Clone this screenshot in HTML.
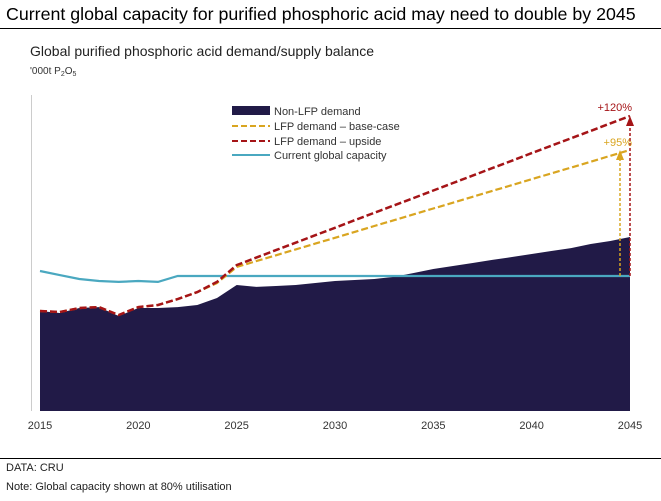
<!DOCTYPE html>
<html><head><meta charset="utf-8"><style>
body{margin:0;background:#fff;font-family:"Liberation Sans",sans-serif;}
svg{display:block}
</style></head><body>
<svg width="661" height="501" font-family="Liberation Sans, sans-serif">
<text x="6" y="20" font-size="17.8" fill="#000">Current global capacity for purified phosphoric acid may need to double by 2045</text>
<line x1="0" y1="28.5" x2="661" y2="28.5" stroke="#000" stroke-width="1"/>
<text x="30" y="56" font-size="14" fill="#222">Global purified phosphoric acid demand/supply balance</text>
<text x="30" y="74" font-size="10" fill="#333">'000t P<tspan font-size="7" dy="2">2</tspan><tspan dy="-2">O</tspan><tspan font-size="7" dy="2">5</tspan></text>
<line x1="31.5" y1="95" x2="31.5" y2="411" stroke="#ccc"/>
<g id="plot"></g>
<g id="xt"></g>
<g font-size="11" fill="#333">
<rect x="232" y="106" width="38" height="9" fill="#211a47"/>
<text x="274" y="115">Non-LFP demand</text>
<line x1="232" y1="126" x2="270" y2="126" stroke="#d9a520" stroke-width="2" stroke-dasharray="6,3"/>
<text x="274" y="130">LFP demand – base-case</text>
<line x1="232" y1="141" x2="270" y2="141" stroke="#a51417" stroke-width="2" stroke-dasharray="6,3"/>
<text x="274" y="145">LFP demand – upside</text>
<line x1="232" y1="155" x2="270" y2="155" stroke="#4aa8c0" stroke-width="2"/>
<text x="274" y="159">Current global capacity</text>
</g>
<line x1="0" y1="458.5" x2="661" y2="458.5" stroke="#000"/>
<text x="6" y="471" font-size="11" fill="#222">DATA: CRU</text>
<text x="6" y="490" font-size="11" fill="#222">Note: Global capacity shown at 80% utilisation</text>
</svg>
<script>
const years=[2015,2016,2017,2018,2019,2020,2021,2022,2023,2024,2025,2026,2027,2028,2029,2030,2031,2032,2033,2034,2035,2036,2037,2038,2039,2040,2041,2042,2043,2044,2045];
const nonLfp=[74.1,72.6,76.3,77.0,70.4,76.3,76.3,77.0,78.5,83.7,93.3,91.9,92.6,93.3,94.8,96.3,97.0,97.8,99.3,102.2,105.2,107.4,109.6,111.9,114.1,116.3,118.5,120.7,123.7,125.9,128.9];
const upside=[74.1,73.3,76.3,77.0,71.1,77.0,78.5,82.9,88.1,95.6,108.1,113.6,119.2,124.7,130.2,135.7,141.3,146.8,152.3,157.8,163.3,168.9,174.4,179.9,185.4,191.0,196.5,202.0,207.5,213.0,218.5];
const baseCase=[74.1,73.3,76.3,77.0,71.1,77.0,78.5,82.9,88.1,94.8,106.7,111.0,115.3,119.7,124.0,128.3,132.7,137.0,141.3,145.7,150.0,154.3,158.7,163.0,167.3,171.7,176.0,180.3,184.7,189.0,193.3];
const capacity=[103.7,100.7,97.8,96.3,95.6,96.3,95.6,100,100,100,100,100,100,100,100,100,100,100,100,100,100,100,100,100,100,100,100,100,100,100,100];
const tickYears=[2015,2020,2025,2030,2035,2040,2045];
const labels=["+120%","+95%"];
const NS="http://www.w3.org/2000/svg";
const X=y=>40+(y-2015)*(590/30);
const Y=v=>411-v*1.35;
const plot=document.getElementById('plot');
function mk(t,a){const e=document.createElementNS(NS,t);for(const k in a)e.setAttribute(k,a[k]);return e;}
const pts=a=>a.map((v,i)=>X(years[i]).toFixed(1)+','+Y(v).toFixed(1)).join(' ');
const area=mk('polygon',{points:X(years[0])+','+Y(0)+' '+pts(nonLfp)+' '+X(years[years.length-1])+','+Y(0),fill:'#211a47'});


plot.appendChild(area);
const cap=mk('polyline',{points:pts(capacity),fill:'none',stroke:'#4aa8c0','stroke-width':2.2});


plot.appendChild(cap);
const base=mk('polyline',{points:pts(baseCase),fill:'none',stroke:'#d9a520','stroke-width':2.2,'stroke-dasharray':'7,3'});


plot.appendChild(base);
const up=mk('polyline',{points:pts(upside),fill:'none',stroke:'#a51417','stroke-width':2.5,'stroke-dasharray':'7,3'});


plot.appendChild(up);
const last=years.length-1;
const ax1=X(2045), ax2=X(2045)-10;
const a1=mk('line',{x1:ax1,y1:Y(capacity[last]),x2:ax1,y2:Y(upside[last])+8,stroke:'#a51417','stroke-width':1.5,'stroke-dasharray':'3,2'});


plot.appendChild(a1);
const h1=mk('polygon',{points:`${ax1-4},${Y(upside[last])+10} ${ax1+4},${Y(upside[last])+10} ${ax1},${Y(upside[last])}`,fill:'#a51417'});


plot.appendChild(h1);
const a2=mk('line',{x1:ax2,y1:Y(capacity[last]),x2:ax2,y2:Y(baseCase[last])+8,stroke:'#d9a520','stroke-width':1.5,'stroke-dasharray':'3,2'});


plot.appendChild(a2);
const h2=mk('polygon',{points:`${ax2-4},${Y(baseCase[last])+10} ${ax2+4},${Y(baseCase[last])+10} ${ax2},${Y(baseCase[last])}`,fill:'#d9a520'});


plot.appendChild(h2);
const t1=mk('text',{x:ax1+2,y:Y(upside[last])-5,'font-size':11,fill:'#a51417','text-anchor':'end'});
t1.textContent=labels[0];


plot.appendChild(t1);
const t2=mk('text',{x:ax1+2,y:Y(baseCase[last])-4,'font-size':11,fill:'#d9a520','text-anchor':'end'});
t2.textContent=labels[1];


plot.appendChild(t2);
const xt=document.getElementById('xt');
tickYears.forEach(y=>{
 const t=mk('text',{x:X(y),y:429,'font-size':11,fill:'#333','text-anchor':'middle'});
 t.textContent=y;
 
 
 xt.appendChild(t);
});
</script>
</body></html>
